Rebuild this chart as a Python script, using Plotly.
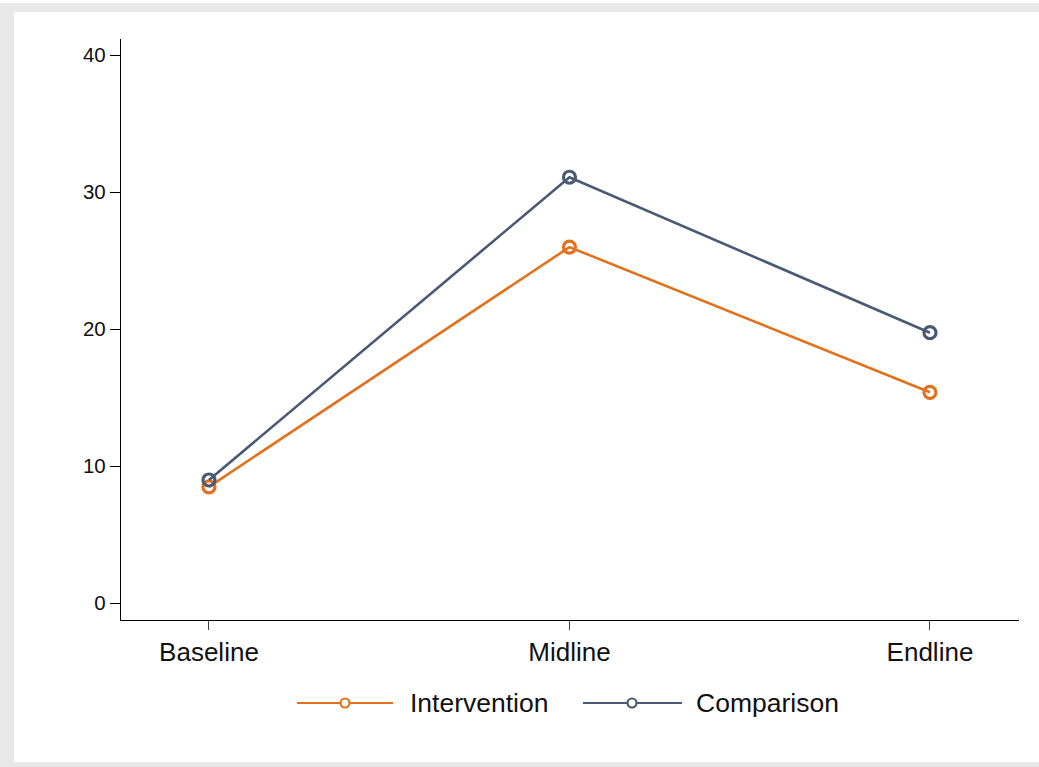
import plotly.graph_objects as go

# Survey rounds and the share for each arm
rounds = ["Baseline", "Midline", "Endline"]
intervention = [8.5, 26.0, 15.4]
comparison = [9.0, 31.1, 19.75]
y_ticks = [0, 10, 20, 30, 40]

ORANGE = "#e2711d"
NAVY = "#4a5a74"
FONT = "Liberation Sans, Arial, sans-serif"

fig = go.Figure()
for name, values, color in [("Intervention", intervention, ORANGE),
                            ("Comparison", comparison, NAVY)]:
    fig.add_trace(go.Scatter(
        x=rounds, y=values, name=name, mode="lines+markers",
        line=dict(color=color, width=2.6),
        marker=dict(symbol="circle-open", size=12, color=color,
                    line=dict(color=color, width=3.2)),
        showlegend=False,
    ))

W, H = 1039, 767
L, R, T, B = 121, 20, 39, 147
pw, ph = W - L - R, H - T - B


def px(xp):
    return (xp - L) / pw


def py(yp):
    return (H - B - yp) / ph


shapes = [
    # light grey frame round the graph region
    dict(type="rect", xref="paper", yref="paper", layer="below",
         x0=px(0), x1=px(W + 5), y0=py(H + 5), y1=py(3),
         fillcolor="#e8e8e8", line=dict(width=0)),
    dict(type="rect", xref="paper", yref="paper", layer="below",
         x0=px(14), x1=px(W + 5), y0=py(762), y1=py(12),
         fillcolor="white", line=dict(width=0)),
]
annotations = []

# legend keys: line, small open circle, label
legend_y = py(703)
for name, color, x0, x1, xc, xt in [("Intervention", ORANGE, 297, 393, 345, 408),
                                    ("Comparison", NAVY, 583, 682, 632, 694)]:
    shapes.append(dict(type="line", xref="paper", yref="paper",
                       x0=px(x0), x1=px(x1), y0=legend_y, y1=legend_y,
                       line=dict(color=color, width=2.2)))
    shapes.append(dict(type="circle", xref="paper", yref="paper",
                       xsizemode="pixel", ysizemode="pixel",
                       xanchor=px(xc), yanchor=legend_y,
                       x0=-4.5, x1=4.5, y0=-4.5, y1=4.5,
                       fillcolor="white", line=dict(color=color, width=2.2)))
    annotations.append(dict(xref="paper", yref="paper", x=px(xt), y=legend_y,
                            xanchor="left", yanchor="middle", showarrow=False,
                            text=name, font=dict(family=FONT, size=26.5, color="#111111")))

fig.update_layout(
    width=W, height=H,
    margin=dict(l=L, r=R, t=T, b=B, pad=0),
    paper_bgcolor="white", plot_bgcolor="white",
    font=dict(family=FONT, color="#111111"),
    shapes=shapes, annotations=annotations,
    xaxis=dict(type="category", range=[-0.244, 2.247],
               showgrid=False, zeroline=False,
               showline=True, linecolor="black", linewidth=1.3,
               ticks="outside", ticklen=9, tickwidth=1, tickcolor="#444444",
               tickfont=dict(family=FONT, size=26, color="#111111")),
    yaxis=dict(range=[-1.22, 41.19], tickvals=y_ticks,
               showgrid=False, zeroline=False,
               showline=True, linecolor="black", linewidth=1.3,
               ticks="outside", ticklen=10, tickwidth=1, tickcolor="black",
               tickfont=dict(family=FONT, size=20.5, color="#111111")),
)

fig.write_html("out.html")
